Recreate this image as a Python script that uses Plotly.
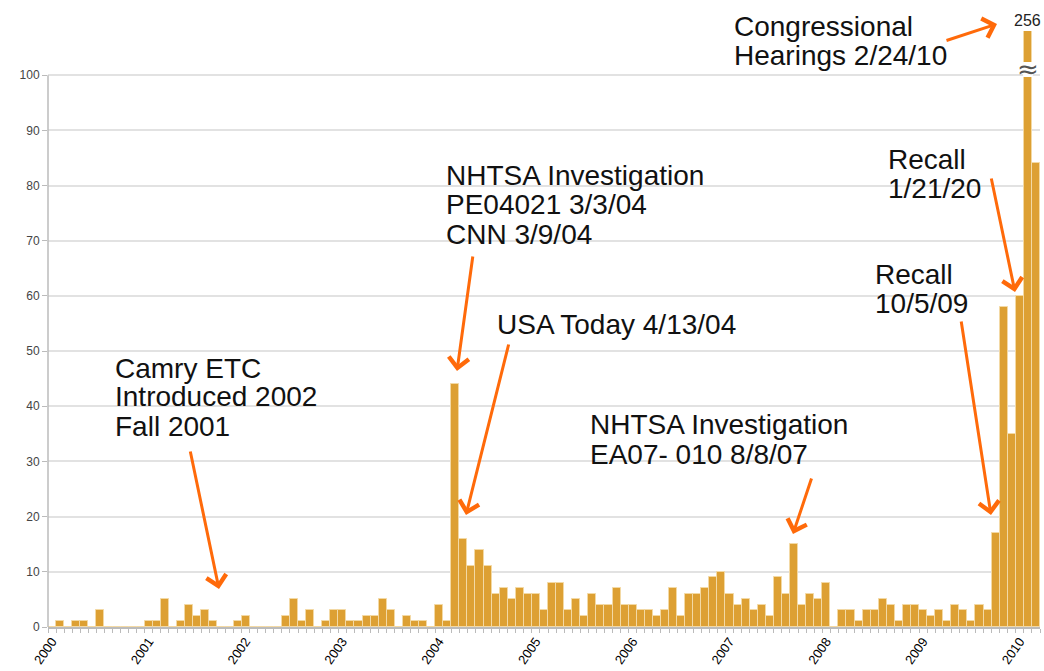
import plotly.graph_objects as go

# ---------------- data ----------------
years = list(range(2000, 2011))
months_per_year = 12
last_year_months = 3  # Jan-Mar 2010

counts_2000 = [0, 1, 0, 1, 1, 0, 3, 0, 0, 0, 0, 0]
counts_2001 = [1, 1, 5, 0, 1, 4, 2, 3, 1, 0, 0, 1]
counts_2002 = [2, 0, 0, 0, 0, 2, 5, 1, 3, 0, 1, 3]
counts_2003 = [3, 1, 1, 2, 2, 5, 3, 0, 2, 1, 1, 0]
counts_2004 = [4, 1, 44, 16, 11, 14, 11, 6, 7, 5, 7, 6]
counts_2005 = [6, 3, 8, 8, 3, 5, 2, 6, 4, 4, 7, 4]
counts_2006 = [4, 3, 3, 2, 3, 7, 2, 6, 6, 7, 9, 10]
counts_2007 = [6, 4, 5, 3, 4, 2, 9, 6, 15, 4, 6, 5]
counts_2008 = [8, 0, 3, 3, 1, 3, 3, 5, 4, 1, 4, 4]
counts_2009 = [3, 2, 3, 1, 4, 3, 1, 4, 3, 17, 58, 35]
counts_2010 = [60, 256, 84]

counts = (counts_2000 + counts_2001 + counts_2002 + counts_2003 + counts_2004 +
          counts_2005 + counts_2006 + counts_2007 + counts_2008 + counts_2009 +
          counts_2010)

months = []
for y in years:
    n = last_year_months if y == 2010 else months_per_year
    for m in range(1, n + 1):
        months.append(f"{y}-{m:02d}")

tick_text = [m[:4] if m.endswith("-01") else "" for m in months]

y_ticks = list(range(0, 101, 10))

# annotation texts
notes = [
    (["Camry ETC", "Introduced 2002", "Fall 2001"], 113, [368, 397, 426]),
    (["NHTSA Investigation", "PE04021 3/3/04", "CNN 3/9/04"], 444, [175, 205, 234]),
    (["USA Today 4/13/04"], 495, [324]),
    (["NHTSA Investigation", "EA07- 010 8/8/07"], 588, [424, 454]),
    (["Recall", "10/5/09"], 873, [274, 303]),
    (["Recall", "1/21/20"], 886, [159, 188]),
    (["Congressional", "Hearings 2/24/10"], 732, [26, 55]),
]
# arrows: (tail_x, tail_y, tip_x, tip_y) in pixels
arrows = [
    (190, 450, 219, 589),
    (473, 255, 457, 371),
    (509, 343, 466, 515),
    (812, 477, 793, 534),
    (961, 320, 991, 515),
    (991, 177, 1015, 292),
    (945, 41, 997, 24),
]

# ---------------- figure ----------------
W, H = 1044, 671
L, R, T, B = 48, 4, 31, 44
PW, PH = W - L - R, H - T - B


def pxx(x):
    return (x - L) / PW


def pxy(y):
    return (H - B - y) / PH


BAR = "#DDA033"
ARROW = "#FF6A0A"
FONT = "Liberation Sans, Arial, Helvetica, sans-serif"

fig = go.Figure()
fig.add_trace(go.Bar(
    x=months, y=counts,
    marker=dict(color=BAR, line=dict(color="#F3D9A4", width=1)),
    hoverinfo="x+y",
))

ann = []
for lines, x0, ys in notes:
    for txt, yy in zip(lines, ys):
        ann.append(dict(
            text=txt, xref="paper", yref="paper", x=pxx(x0), y=pxy(yy),
            xanchor="left", yanchor="middle", showarrow=False,
            font=dict(family=FONT, size=28, color="#111111"),
        ))
for tx, ty, hx, hy in arrows:
    ann.append(dict(
        text="", xref="paper", yref="paper", x=pxx(hx), y=pxy(hy),
        ax=tx - hx, ay=ty - hy, showarrow=True,
        arrowhead=4, arrowsize=1.3, arrowwidth=3, arrowcolor=ARROW,
        standoff=0, startstandoff=0,
    ))
# value label for the clipped bar and the break mark
peak_idx = len(months) - 2
ann.append(dict(
    text=str(counts[peak_idx]), xref="x", yref="paper", x=months[peak_idx], y=pxy(21),
    xanchor="center", yanchor="middle", showarrow=False,
    font=dict(family=FONT, size=16, color="#222222"),
))
ann.append(dict(
    text="≈", xref="x", yref="paper", x=months[peak_idx], y=pxy(69),
    xanchor="center", yanchor="middle", showarrow=False,
    font=dict(family="DejaVu Sans", size=26, color="#555555"),
))

fig.update_layout(
    width=W, height=H,
    margin=dict(l=L, r=R, t=T, b=B, pad=0, autoexpand=False),
    paper_bgcolor="white", plot_bgcolor="white",
    showlegend=False, bargap=0,
    font=dict(family=FONT),
    annotations=ann,
    shapes=[
        dict(type="line", xref="paper", yref="y", x0=0, x1=0, y0=0, y1=100,
             line=dict(color="#BBBBBB", width=1.5)),
        dict(type="rect", xref="x", yref="paper",
             x0=peak_idx - 0.6, x1=peak_idx + 0.6, y0=pxy(77), y1=pxy(62),
             fillcolor="white", line=dict(width=0), layer="above"),
    ],
    xaxis=dict(
        type="category", tickmode="array", tickvals=months, ticktext=tick_text,
        tickson="boundaries", ticks="outside", ticklen=4, tickcolor="#BBBBBB",
        tickangle=-55, tickfont=dict(family=FONT, size=13, color="#000000"),
        showline=True, linecolor="#BBBBBB", linewidth=1.5,
        showgrid=False, range=[-0.5, len(months) - 0.5], automargin=False,
    ),
    yaxis=dict(
        range=[0, 108], tickmode="array", tickvals=y_ticks,
        ticks="outside", ticklen=5, tickcolor="#BBBBBB",
        tickfont=dict(family=FONT, size=12, color="#444444"),
        showgrid=True, gridcolor="#E2E2E2", gridwidth=1.5,
        showline=False, zeroline=False, automargin=False,
    ),
)

fig.write_html(
    "out.html",
    config={"displayModeBar": False},
    post_script="document.body.style.margin='0px';document.body.style.overflow='hidden';",
)
